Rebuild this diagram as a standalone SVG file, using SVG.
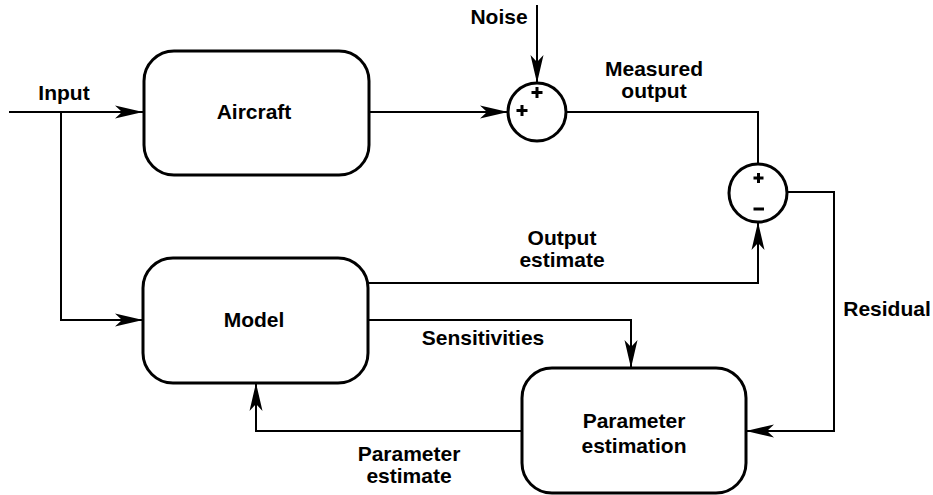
<svg xmlns="http://www.w3.org/2000/svg" width="933" height="495" viewBox="0 0 933 495">
<style>
.box{fill:#fff;stroke:#000;stroke-width:3}
.sum{fill:#fff;stroke:#000;stroke-width:3}
.con{fill:none;stroke:#000;stroke-width:2}
.sign{fill:none;stroke:#000;stroke-width:3}
text{font-family:"Liberation Sans",Arial,Helvetica,sans-serif;font-weight:bold;font-size:21px;fill:#000;text-anchor:middle}
</style>
<defs>
<marker id="ah" markerUnits="userSpaceOnUse" markerWidth="32" markerHeight="16" refX="30" refY="8" orient="auto">
<path d="M30,8 L2,1.5 L9,8 L2,14.5 Z" fill="#000"/>
</marker>
</defs>
<rect width="933" height="495" fill="#fff"/>
<g id="connectors">
<path class="con" d="M9,112 H143" marker-end="url(#ah)"/>
<path class="con" d="M61,112 V320 H143" marker-end="url(#ah)"/>
<path class="con" d="M369,112 H508" marker-end="url(#ah)"/>
<path class="con" d="M537,5 V83" marker-end="url(#ah)"/>
<path class="con" d="M567,112 H758 V164"/>
<path class="con" d="M368,283 H758 V222" marker-end="url(#ah)"/>
<path class="con" d="M787,192 H834 V431 H746" marker-end="url(#ah)"/>
<path class="con" d="M368,320 H631 V368" marker-end="url(#ah)"/>
<path class="con" d="M522,431 H256 V383" marker-end="url(#ah)"/>
</g>
<g id="aircraft">
<rect class="box" x="144" y="51" width="225" height="124" rx="30" ry="30"/>
<text x="254" y="119">Aircraft</text>
</g>
<g id="model">
<rect class="box" x="143" y="258" width="225" height="125" rx="30" ry="30"/>
<text x="254" y="327">Model</text>
</g>
<g id="parameter-estimation">
<rect class="box" x="522" y="368" width="224" height="125" rx="30" ry="30"/>
<text x="634" y="428">Parameter</text>
<text x="634" y="453">estimation</text>
</g>
<g id="sum1">
<circle class="sum" cx="537" cy="112" r="29"/>
<path class="sign" d="M531.5,92.5 H542.5 M537,87 V98 M516.5,110.5 H527.5 M522,105 V116"/>
</g>
<g id="sum2">
<circle class="sum" cx="758" cy="193" r="29"/>
<path class="sign" d="M753.5,178 H763.5 M758.5,173 V183 M753.5,209 H764"/>
</g>
<g id="labels">
<text x="64" y="100">Input</text>
<text x="499" y="24">Noise</text>
<text x="654" y="76">Measured</text>
<text x="654" y="98">output</text>
<text x="562" y="245">Output</text>
<text x="562" y="267">estimate</text>
<text x="483" y="345">Sensitivities</text>
<text x="409" y="461">Parameter</text>
<text x="409" y="483">estimate</text>
<text x="887" y="316">Residual</text>
</g>
</svg>
